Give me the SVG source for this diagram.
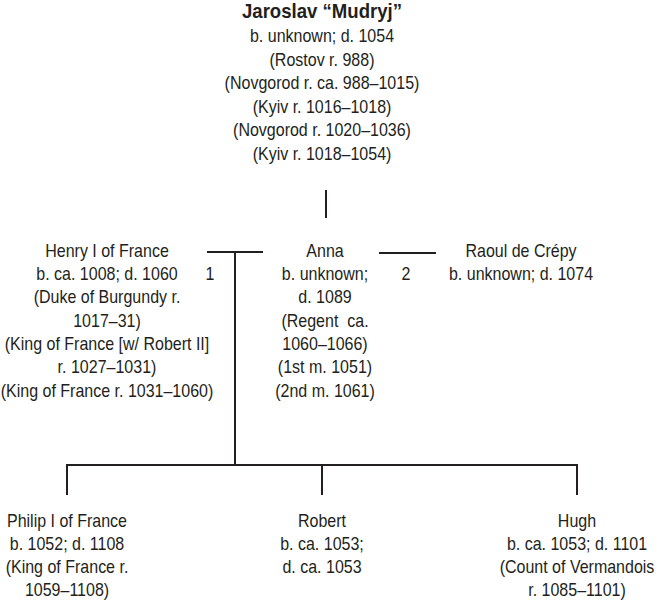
<svg xmlns="http://www.w3.org/2000/svg" width="664" height="600" viewBox="0 0 664 600">
<style>
text{font-family:"Liberation Sans",Arial,sans-serif;font-size:18px;fill:#231f20;text-anchor:middle}
.b{font-weight:bold;font-size:20px}
.c line{stroke:#231f20;stroke-width:2;fill:none}
</style>
<rect width="664" height="600" fill="#fff"/>
<g id="jaroslav">
<text class="b" transform="translate(322 18) scale(0.93 1)">Jaroslav “Mudryj”</text>
<g transform="translate(322 0) scale(0.89 1)">
<text x="0" y="42">b. unknown; d. 1054</text>
<text x="0" y="66">(Rostov r. 988)</text>
<text x="0" y="89">(Novgorod r. ca. 988–1015)</text>
<text x="0" y="113">(Kyiv r. 1016–1018)</text>
<text x="0" y="136">(Novgorod r. 1020–1036)</text>
<text x="0" y="160">(Kyiv r. 1018–1054)</text>
</g>
</g>
<g id="henry" transform="translate(107 0) scale(0.89 1)">
<text x="0" y="257">Henry I of France</text>
<text x="0" y="280">b. ca. 1008; d. 1060</text>
<text x="0" y="303">(Duke of Burgundy r.</text>
<text x="0" y="327">1017–31)</text>
<text x="0" y="350">(King of France [w/ Robert II]</text>
<text x="0" y="373">r. 1027–1031)</text>
<text x="0" y="397">(King of France r. 1031–1060)</text>
</g>
<g id="anna" transform="translate(325 0) scale(0.89 1)">
<text x="0" y="257">Anna</text>
<text x="0" y="280">b. unknown;</text>
<text x="0" y="303">d. 1089</text>
<text x="0" y="327" xml:space="preserve">(Regent  ca.</text>
<text x="0" y="350">1060–1066)</text>
<text x="0" y="373">(1st m. 1051)</text>
<text x="0" y="397">(2nd m. 1061)</text>
</g>
<g id="raoul" transform="translate(521 0) scale(0.89 1)">
<text x="0" y="257">Raoul de Crépy</text>
<text x="0" y="280">b. unknown; d. 1074</text>
</g>
<g id="philip" transform="translate(67 0) scale(0.89 1)">
<text x="0" y="527">Philip I of France</text>
<text x="0" y="550">b. 1052; d. 1108</text>
<text x="0" y="573">(King of France r.</text>
<text x="0" y="596">1059–1108)</text>
</g>
<g id="robert" transform="translate(322 0) scale(0.89 1)">
<text x="0" y="527">Robert</text>
<text x="0" y="550">b. ca. 1053;</text>
<text x="0" y="573">d. ca. 1053</text>
</g>
<g id="hugh" transform="translate(577 0) scale(0.89 1)">
<text x="0" y="527">Hugh</text>
<text x="0" y="550">b. ca. 1053; d. 1101</text>
<text x="0" y="573">(Count of Vermandois</text>
<text x="0" y="596">r. 1085–1101)</text>
</g>
<g id="connectors" class="c">
<line x1="326" y1="190" x2="326" y2="218"/>
<line x1="207" y1="252" x2="263" y2="252"/>
<line x1="235" y1="252" x2="235" y2="465"/>
<line x1="379" y1="253" x2="436" y2="253"/>
<line x1="67" y1="465" x2="577" y2="465"/>
<line x1="67" y1="464" x2="67" y2="495"/>
<line x1="322" y1="465" x2="322" y2="495"/>
<line x1="577" y1="464" x2="577" y2="495"/>
<text transform="translate(210 280) scale(0.89 1)">1</text>
<text transform="translate(406 280) scale(0.89 1)">2</text>
</g>
</svg>
